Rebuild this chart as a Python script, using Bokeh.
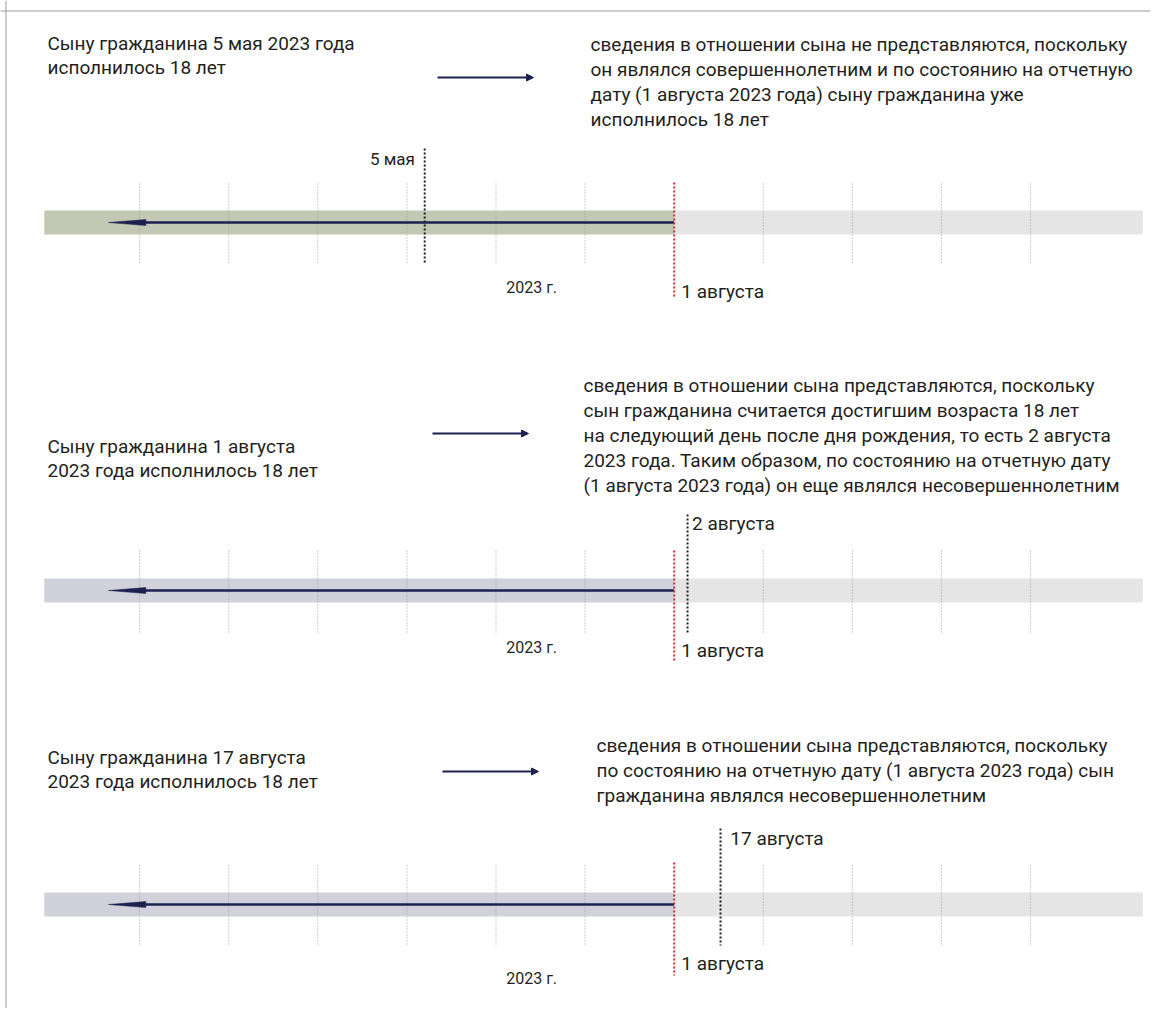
from bokeh.plotting import figure
from bokeh.models import Range1d, Span, Arrow, NormalHead
from bokeh.core.properties import value
from bokeh.embed import file_html
from bokeh.resources import INLINE

FONT = "Roboto"
TEXT_COLOR = "#231f20"
NAVY = "#1d2150"

# ---- data (timeline in month units: 0 = 1 января 2023) ----
month_ticks = [1, 2, 3, 4, 5, 6, 8, 9, 10, 11]
report_month = 7.0           # 1 августа (отчетная дата)
year_start = -0.07
year_end = 12.26
arrow_start = 0.65
year_label = "2023 г."
report_label = "1 августа"
event_labels = ["5 мая", "2 августа", "17 августа"]
event_positions = [4.2, 7.15, 7.52]
past_colors = ["#c3c8b4", "#d1d1db", "#d1d1db"]
future_color = "#e4e5e4"

left_texts = [
    ["Сыну гражданина 5 мая 2023 года", "исполнилось 18 лет"],
    ["Сыну гражданина 1 августа", "2023 года исполнилось 18 лет"],
    ["Сыну гражданина 17 августа", "2023 года исполнилось 18 лет"],
]
right_texts = [
    ["сведения в отношении сына не представляются, поскольку",
     "он являлся совершеннолетним и по состоянию на отчетную",
     "дату (1 августа 2023 года) сыну гражданина уже",
     "исполнилось 18 лет"],
    ["сведения в отношении сына представляются, поскольку",
     "сын гражданина считается достигшим возраста 18 лет",
     "на следующий день после дня рождения, то есть 2 августа",
     "2023 года. Таким образом, по состоянию на отчетную дату",
     "(1 августа 2023 года) он еще являлся несовершеннолетним"],
    ["сведения в отношении сына представляются, поскольку",
     "по состоянию на отчетную дату (1 августа 2023 года) сын",
     "гражданина являлся несовершеннолетним"],
]

# ---- layout (pixels) ----
bar_y = [222, 590, 904]
left_y0 = [43, 446, 757]
right_x = [590, 583, 596]
right_y0 = [44, 385, 745]
arrow_x = [(437, 533), (432, 528), (442, 538)]
arrow_y = [77, 433, 771]
tick_span = [(-39, 41), (-40, 42), (-39, 41)]
red_span = [(-40, 76), (-40, 72), (-42, 71)]
event_span = [(-74, 41), (-76, 42), (-76, 41)]
event_label_dy = [-64, -67, -66]
report_label_dy = [69, 60, 59]
year_label_dy = [65, 57, 74]
LINE_H = 25

W, H = 1150, 1008
p = figure(width=W, height=H, output_backend="svg", toolbar_location=None,
           x_range=Range1d(-0.5612, 12.346), y_range=Range1d(1008, 0),
           min_border=0, border_fill_color="white", background_fill_color="white")
p.extra_x_ranges = {"px": Range1d(0, 1150)}
p.xaxis.visible = False
p.yaxis.visible = False
p.grid.visible = False
p.outline_line_color = None

# frame (left & top border)
p.add_layout(Span(location=5.5, dimension="height", x_range_name="px",
                  line_color="#9b9b9b", line_width=1))
p.add_layout(Span(location=10.5, dimension="width",
                  line_color="#9b9b9b", line_width=1))

for i in range(3):
    yc = bar_y[i]
    # bars
    p.quad(left=[year_start], right=[report_month], top=[yc - 12], bottom=[yc + 12],
           fill_color=past_colors[i], line_color=None)
    p.quad(left=[report_month], right=[year_end], top=[yc - 12], bottom=[yc + 12],
           fill_color=future_color, line_color=None)
    # month ticks
    t0, t1 = tick_span[i]
    p.segment(x0=month_ticks, x1=month_ticks, y0=[yc + t0] * len(month_ticks),
              y1=[yc + t1] * len(month_ticks), line_color="#a0a0a0",
              line_width=1, line_dash="1 2")
    # timeline arrow (pointing to the past)
    p.segment(x0=[arrow_start + 0.3], x1=[report_month], y0=[yc], y1=[yc],
              line_color=NAVY, line_width=2.5)
    p.patch(x=[arrow_start, arrow_start + 0.42, arrow_start + 0.42],
            y=[yc, yc - 3, yc + 3], fill_color=NAVY, line_color=NAVY, line_width=0.5)
    # report date (red)
    r0, r1 = red_span[i]
    p.segment(x0=[report_month], x1=[report_month], y0=[yc + r0], y1=[yc + r1],
              line_color="#e8202a", line_width=2, line_dash="2 2")
    # event date (black)
    e0, e1 = event_span[i]
    ex = event_positions[i]
    p.segment(x0=[ex], x1=[ex], y0=[yc + e0], y1=[yc + e1],
              line_color="#222222", line_width=2, line_dash="2 2")
    if i == 0:
        p.text(x=[ex - 0.11], y=[yc + event_label_dy[i]], text=[event_labels[i]],
               text_align="right", text_baseline="middle", text_font=value(FONT),
               text_font_size="17px", text_color=TEXT_COLOR)
    else:
        p.text(x=[ex + (0.05 if i == 1 else 0.11)], y=[yc + event_label_dy[i]],
               text=[event_labels[i]], text_align="left", text_baseline="middle",
               text_font=value(FONT), text_font_size="19px", text_color=TEXT_COLOR)
    # labels under
    p.text(x=[report_month + 0.08], y=[yc + report_label_dy[i]], text=[report_label],
           text_align="left", text_baseline="middle", text_font=value(FONT),
           text_font_size="19px", text_color=TEXT_COLOR)
    p.text(x=[5.4], y=[yc + year_label_dy[i]], text=[year_label],
           text_align="center", text_baseline="middle", text_font=value(FONT),
           text_font_size="16px", text_color=TEXT_COLOR)
    # left text
    lt = left_texts[i]
    p.text(x=[47] * len(lt), y=[left_y0[i] + k * 24 for k in range(len(lt))], text=lt,
           x_range_name="px", text_align="left", text_baseline="middle",
           text_font=value(FONT), text_font_size="19px", text_color=TEXT_COLOR)
    # right text
    rt = right_texts[i]
    p.text(x=[right_x[i]] * len(rt), y=[right_y0[i] + k * LINE_H for k in range(len(rt))],
           text=rt, x_range_name="px", text_align="left", text_baseline="middle",
           text_font=value(FONT), text_font_size="19px", text_color=TEXT_COLOR)
    # explanatory arrow
    ax0, ax1 = arrow_x[i]
    p.add_layout(Arrow(x_start=ax0, x_end=ax1, y_start=arrow_y[i], y_end=arrow_y[i],
                       x_range_name="px", line_color=NAVY, line_width=2,
                       end=NormalHead(size=7, fill_color=NAVY, line_color=NAVY)))

open("out.html", "w").write(file_html(p, INLINE))
